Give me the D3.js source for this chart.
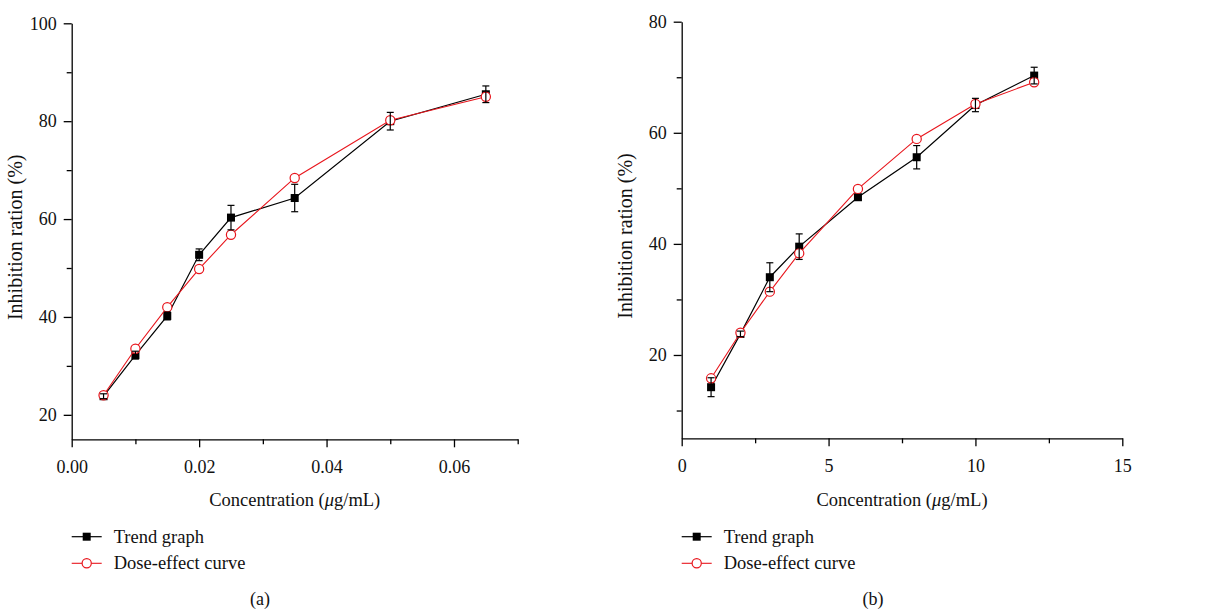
<!DOCTYPE html>
<html>
<head>
<meta charset="utf-8">
<script src="https://cdn.jsdelivr.net/npm/d3@7"></script>
<style>
  body { margin: 0; background: #fff; }
  svg { display: block; font-family: "Liberation Serif", "DejaVu Serif", serif; }
</style>
</head>
<body>
<svg id="chart" width="1218" height="609"></svg>
<script>
// panel (a)
const concA = [0.005, 0.01, 0.015, 0.02, 0.025, 0.035, 0.05, 0.065];
const trendA = [23.8, 32.2, 40.2, 52.7, 60.3, 64.3, 80.0, 85.5];
const trendErrA = [0.5, 0.8, 0.8, 1.2, 2.5, 2.8, 1.8, 1.7];
const doseA = [24.0, 33.5, 42.0, 49.8, 56.8, 68.4, 80.2, 85.0];
const xTicksA = [0, 0.02, 0.04, 0.06];
const xMinorA = [0.01, 0.03, 0.05, 0.07];
const yTicksA = [20, 40, 60, 80, 100];
const yMinorA = [30, 50, 70, 90];

// panel (b)
const concB = [1, 2, 3, 4, 6, 8, 10, 12];
const trendB = [14.2, 23.8, 34.0, 39.5, 48.4, 55.6, 65.0, 70.3];
const trendErrB = [1.7, 0.5, 2.6, 2.3, 0.5, 2.1, 1.2, 1.5];
const doseB = [15.8, 24.0, 31.4, 38.3, 49.9, 58.9, 65.2, 69.1];
const xTicksB = [0, 5, 10, 15];
const xMinorB = [2.5, 7.5, 12.5];
const yTicksB = [20, 40, 60, 80];
const yMinorB = [10, 30, 50, 70];

const legendNames = ["Trend graph", "Dose-effect curve"];
const red = "#e8161d";

const svg = d3.select("#chart");

function drawPanel(opts) {
  const x = d3.scaleLinear().domain(opts.xDomain).range([opts.left, opts.right]);
  const y = d3.scaleLinear().domain(opts.yDomain).range([opts.bottom, opts.top]);
  const g = svg.append("g");

  // axes
  g.append("g").attr("transform", `translate(0,${opts.bottom})`)
    .call(d3.axisBottom(x).tickValues(opts.xTicks).tickFormat(opts.xFormat).tickSize(8).tickPadding(13).tickSizeOuter(0));
  g.append("g").attr("transform", `translate(0,${opts.bottom})`)
    .call(d3.axisBottom(x).tickValues(opts.xMinor).tickFormat("").tickSize(5).tickSizeOuter(0))
    .select(".domain").remove();
  g.append("g").attr("transform", `translate(${opts.left},0)`)
    .call(d3.axisLeft(y).tickValues(opts.yTicks).tickFormat(d3.format("d")).tickSize(8).tickPadding(7).tickSizeOuter(0));
  g.append("g").attr("transform", `translate(${opts.left},0)`)
    .call(d3.axisLeft(y).tickValues(opts.yMinor).tickFormat("").tickSize(5).tickSizeOuter(0))
    .select(".domain").remove();

  g.selectAll(".domain, .tick line").attr("stroke", "#000").attr("stroke-width", 1.3);
  g.selectAll(".tick text").attr("font-size", 18).attr("fill", "#111")
    .attr("font-family", "Liberation Serif, serif");

  // axis titles
  const xt = g.append("text")
    .attr("x", (opts.left + opts.right) / 2).attr("y", 506)
    .attr("text-anchor", "middle").attr("font-size", 18.5).attr("fill", "#111");
  xt.append("tspan").text("Concentration (");
  xt.append("tspan").attr("font-style", "italic").text("\u03bc");
  xt.append("tspan").text("g/mL)");

  g.append("text")
    .attr("transform", `translate(${opts.left - 50},${(opts.top + opts.bottom) / 2 + 6}) rotate(-90)`)
    .attr("text-anchor", "middle").attr("font-size", 20).attr("fill", "#111")
    .text("Inhibition ration (%)");

  const line = d3.line().x(d => x(d[0])).y(d => y(d[1]));
  const trendPts = opts.conc.map((c, i) => [c, opts.trend[i], opts.err[i]]);
  const dosePts = opts.conc.map((c, i) => [c, opts.dose[i]]);

  g.append("path").datum(trendPts).attr("d", line)
    .attr("fill", "none").attr("stroke", "#000").attr("stroke-width", 1.2);
  g.selectAll(".sq").data(trendPts).join("rect")
    .attr("x", d => x(d[0]) - 4).attr("y", d => y(d[1]) - 4)
    .attr("width", 8).attr("height", 8).attr("fill", "#000");

  g.append("path").datum(dosePts).attr("d", line)
    .attr("fill", "none").attr("stroke", red).attr("stroke-width", 1.1);
  g.selectAll(".ci").data(dosePts).join("circle")
    .attr("cx", d => x(d[0])).attr("cy", d => y(d[1])).attr("r", 4.6)
    .attr("fill", "#fff").attr("stroke", red).attr("stroke-width", 1.2);

  // error bars
  const eb = g.selectAll(".eb").data(trendPts).join("g").attr("stroke", "#000").attr("stroke-width", 1.2);
  eb.append("line").attr("x1", d => x(d[0])).attr("x2", d => x(d[0]))
    .attr("y1", d => y(d[1] - d[2])).attr("y2", d => y(d[1] + d[2]));
  eb.append("line").attr("x1", d => x(d[0]) - 3.5).attr("x2", d => x(d[0]) + 3.5)
    .attr("y1", d => y(d[1] + d[2])).attr("y2", d => y(d[1] + d[2]));
  eb.append("line").attr("x1", d => x(d[0]) - 3.5).attr("x2", d => x(d[0]) + 3.5)
    .attr("y1", d => y(d[1] - d[2])).attr("y2", d => y(d[1] - d[2]));

  // legend
  const leg = g.append("g").attr("transform", `translate(${opts.left},0)`);
  const rows = [536.7, 563.3];
  leg.append("line").attr("x1", 0).attr("x2", 30).attr("y1", rows[0]).attr("y2", rows[0])
    .attr("stroke", "#000").attr("stroke-width", 1.2);
  leg.append("rect").attr("x", 11).attr("y", rows[0] - 4).attr("width", 8).attr("height", 8).attr("fill", "#000");
  leg.append("line").attr("x1", 0).attr("x2", 30).attr("y1", rows[1]).attr("y2", rows[1])
    .attr("stroke", red).attr("stroke-width", 1.1);
  leg.append("circle").attr("cx", 15).attr("cy", rows[1]).attr("r", 4.6)
    .attr("fill", "#fff").attr("stroke", red).attr("stroke-width", 1.2);
  leg.selectAll(".lt").data(legendNames).join("text")
    .attr("x", 42).attr("y", (d, i) => rows[i] + 6)
    .attr("font-size", 18.5).attr("fill", "#111").text(d => d);

  // caption
  g.append("text").attr("x", opts.capX).attr("y", 605)
    .attr("text-anchor", "middle").attr("font-size", 18).attr("fill", "#111").text(opts.caption);
}

drawPanel({
  left: 71.7, right: 517.7, top: 23.3, bottom: 439.3,
  xDomain: [0, 0.07], yDomain: [15, 100],
  xTicks: xTicksA, xMinor: xMinorA, yTicks: yTicksA, yMinor: yMinorA,
  xFormat: d3.format(".2f"),
  conc: concA, trend: trendA, err: trendErrA, dose: doseA,
  caption: "(a)", capX: 260
});

drawPanel({
  left: 681.7, right: 1122.3, top: 21.7, bottom: 438.3,
  xDomain: [0, 15], yDomain: [5, 80],
  xTicks: xTicksB, xMinor: xMinorB, yTicks: yTicksB, yMinor: yMinorB,
  xFormat: d3.format("d"),
  conc: concB, trend: trendB, err: trendErrB, dose: doseB,
  caption: "(b)", capX: 873
});
</script>
</body>
</html>
